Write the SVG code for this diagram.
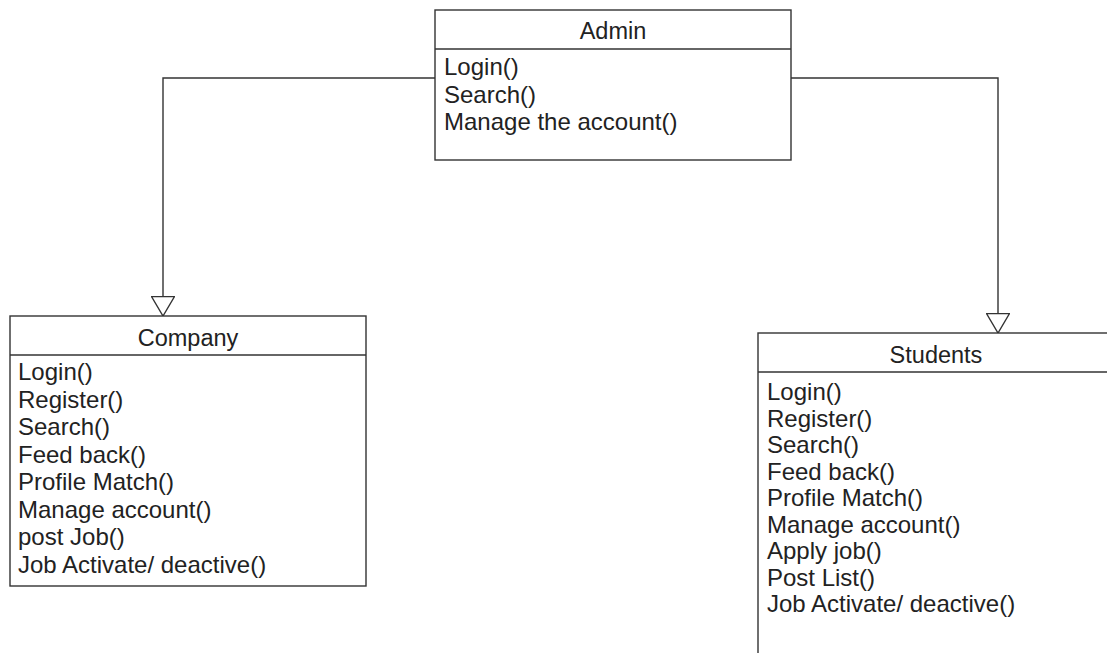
<svg xmlns="http://www.w3.org/2000/svg" width="1107" height="653" viewBox="0 0 1107 653">
  <style>
    .box { fill: #ffffff; stroke: #333333; stroke-width: 1.4; }
    .div { stroke: #333333; stroke-width: 1.4; }
    .conn { fill: none; stroke: #333333; stroke-width: 1.4; }
    .title { font-family: "Liberation Sans", Arial, sans-serif; font-size: 23.5px; fill: #222222; text-anchor: middle; }
    .op { font-family: "Liberation Sans", Arial, sans-serif; font-size: 24px; fill: #222222; }
  </style>
  <defs>
    <marker id="gen" viewBox="0 0 21 24" refX="20" refY="12" markerWidth="21" markerHeight="24" markerUnits="userSpaceOnUse" orient="auto">
      <path d="M0.5,0.5 L20,12 L0.5,23.5 Z" fill="#ffffff" stroke="#333333" stroke-width="1.4"/>
    </marker>
  </defs>
  <rect width="1107" height="653" fill="#ffffff"/>

  <g id="connectors">
    <path class="conn" d="M435,78 H163 V316" marker-end="url(#gen)"/>
    <path class="conn" d="M791,78 H998 V333" marker-end="url(#gen)"/>
  </g>

  <g id="admin">
    <rect class="box" x="435" y="10" width="356" height="150"/>
    <line class="div" x1="435" y1="49" x2="791" y2="49"/>
    <text class="title" x="613" y="39">Admin</text>
    <text class="op" x="444" y="75">Login()</text>
    <text class="op" x="444" y="102.5">Search()</text>
    <text class="op" x="444" y="130">Manage the account()</text>
  </g>

  <g id="company">
    <rect class="box" x="10" y="316" width="356" height="270"/>
    <line class="div" x1="10" y1="355" x2="366" y2="355"/>
    <text class="title" x="188" y="346">Company</text>
    <text class="op" x="18" y="380">Login()</text>
    <text class="op" x="18" y="407.5">Register()</text>
    <text class="op" x="18" y="435">Search()</text>
    <text class="op" x="18" y="462.5">Feed back()</text>
    <text class="op" x="18" y="490">Profile Match()</text>
    <text class="op" x="18" y="517.5">Manage account()</text>
    <text class="op" x="18" y="545">post Job()</text>
    <text class="op" x="18" y="572.5">Job Activate/ deactive()</text>
  </g>

  <g id="students">
    <rect class="box" x="758" y="333" width="356" height="340"/>
    <line class="div" x1="758" y1="372" x2="1114" y2="372"/>
    <text class="title" x="936" y="363">Students</text>
    <text class="op" x="767" y="400">Login()</text>
    <text class="op" x="767" y="426.5">Register()</text>
    <text class="op" x="767" y="453">Search()</text>
    <text class="op" x="767" y="479.5">Feed back()</text>
    <text class="op" x="767" y="506">Profile Match()</text>
    <text class="op" x="767" y="532.5">Manage account()</text>
    <text class="op" x="767" y="559">Apply job()</text>
    <text class="op" x="767" y="585.5">Post List()</text>
    <text class="op" x="767" y="612">Job Activate/ deactive()</text>
  </g>
</svg>
